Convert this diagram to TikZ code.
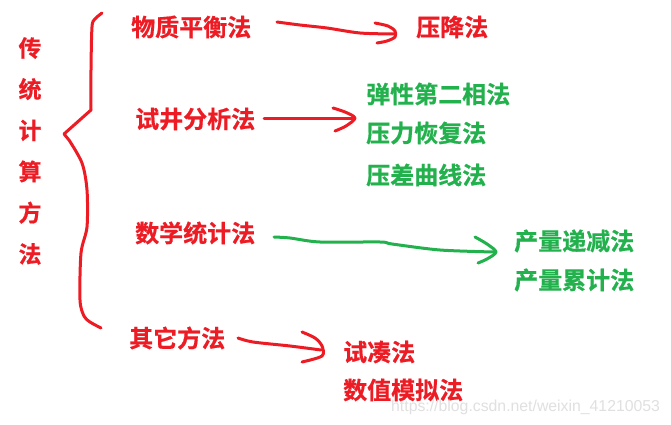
\documentclass[tikz,border=0pt]{standalone}
\usepackage{fontspec}
\newfontfamily\cjkb[FakeBold=0.6]{Noto Sans CJK SC Bold}
\setsansfont{Liberation Sans}
\definecolor{pred}{HTML}{ED1C24}
\definecolor{pgreen}{HTML}{22B14C}
\begin{document}
\begin{tikzpicture}[x=1pt,y=-1pt,
  lbl/.style={inner sep=0pt,anchor=west,font=\cjkb\fontsize{24}{26}\selectfont},
  rlbl/.style={lbl,text=pred},
  glbl/.style={lbl,text=pgreen},
  pen/.style={line width=3pt,line cap=round,line join=round},
  rpen/.style={pen,draw=pred},
  gpen/.style={pen,draw=pgreen}]
\useasboundingbox[fill=white] (0,0) rectangle (671,425);
% vertical title
\node[inner sep=0pt,text=pred,align=center,font=\cjkb\fontsize{23}{41.2}\selectfont] (title) at (30,151) {传\\统\\计\\算\\方\\法};
% brace
\draw[rpen] plot[smooth,tension=0.5] coordinates {(102,13) (95,19) (92,27) (91,70) (91,110)}
  -- (64,134) -- (69,140) plot[smooth,tension=0.5] coordinates {(69,140) (82,163) (87,190) (87,227) (81,253) (80,300) (84,316) (90,322) (101,328)};
% level 1
\node[rlbl] (wz) at (131,27) {物质平衡法};
\node[rlbl] (sj) at (135,119) {试井分析法};
\node[rlbl] (sx) at (135,233) {数学统计法};
\node[rlbl] (qt) at (129,338) {其它方法};
% targets
\node[rlbl] (yj) at (416,27) {压降法};
\node[glbl] (tx) at (366,94) {弹性第二相法};
\node[glbl] (yl) at (366,133) {压力恢复法};
\node[glbl] (yc) at (366,175) {压差曲线法};
\node[glbl] (cd) at (514,241) {产量递减法};
\node[glbl] (cl) at (514,280) {产量累计法};
\node[rlbl] (sc) at (343,352) {试凑法};
\node[rlbl] (sz) at (343,390) {数值模拟法};
% arrow coordinates
\coordinate (s1) at (277,22); \coordinate (t1) at (394,34);
\coordinate (s2) at (264,118); \coordinate (t2) at (354,118);
\coordinate (s3) at (274,237); \coordinate (t3) at (494,252);
\coordinate (s4) at (238,338); \coordinate (t4) at (321,350);
% arrow 1
\draw[rpen] plot[smooth,tension=0.5] coordinates {(s1) (300,25) (327,28) (360,33) (t1)};
\draw[rpen] plot[smooth,tension=0.5] coordinates {(375,23) (388,26) (395,31) (395,37) (387,41) (377,43)};
% arrow 2
\draw[rpen] (s2) -- (t2);
\draw[rpen] plot[smooth,tension=0.5] coordinates {(333,108) (345,112) (355,118) (346,126) (335,131)};
% arrow 3
\draw[gpen] plot[smooth,tension=0.5] coordinates {(s3) (290,238) (320,242) (380,242) (392,244) (440,250) (t3)};
\draw[gpen] plot[smooth,tension=0.5] coordinates {(475,237) (487,244) (496,252) (487,259) (478,263)};
% arrow 4
\draw[rpen] plot[smooth,tension=0.5] coordinates {(s4) (253,342) (290,346) (t4)};
\draw[rpen] plot[smooth,tension=0.5] coordinates {(302,332) (315,338) (322,346) (322,356) (302,362)};
% watermark
\node[inner sep=0pt,anchor=west,text=black!12,font=\sffamily\fontsize{15.8}{17}\selectfont] (wm) at (391,407) {https://blog.csdn.net/weixin\_41210053};
\end{tikzpicture}
\end{document}
